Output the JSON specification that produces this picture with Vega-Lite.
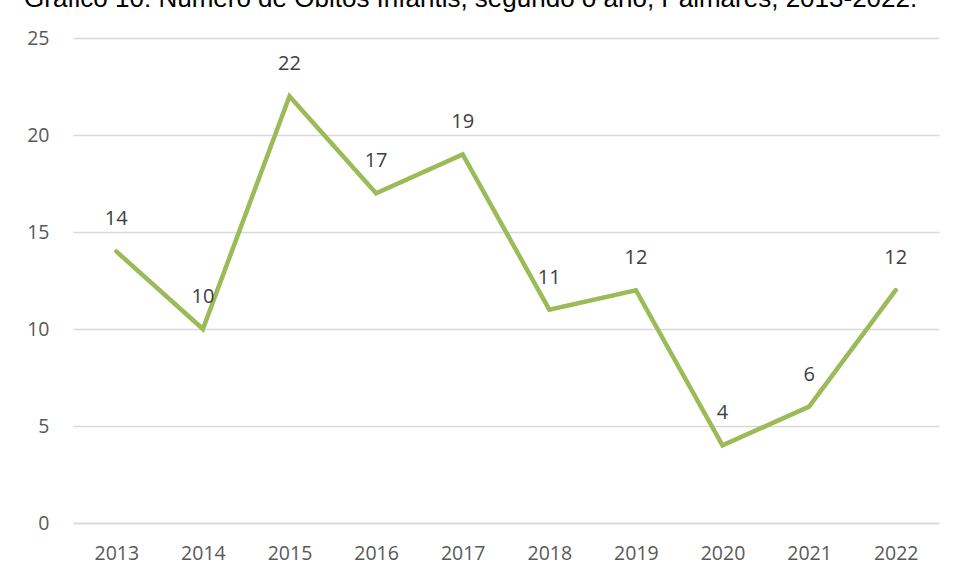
{
  "$schema": "https://vega.github.io/schema/vega-lite/v6.json",
  "width": 866,
  "height": 485,
  "autosize": {"type": "none"},
  "padding": {"left": 73, "top": 38, "right": 16, "bottom": 53},
  "background": "white",
  "title": {
    "text": "Gráfico 10: Número de Óbitos Infantis, segundo o ano, Palmares, 2013-2022.",
    "anchor": "start",
    "frame": "group",
    "dx": -49,
    "offset": 16,
    "font": "Liberation Sans",
    "fontSize": 26,
    "fontWeight": "normal",
    "color": "#000000"
  },
  "data": {
    "values": [
      {"ano": "2013", "obitos": 14},
      {"ano": "2014", "obitos": 10},
      {"ano": "2015", "obitos": 22},
      {"ano": "2016", "obitos": 17},
      {"ano": "2017", "obitos": 19},
      {"ano": "2018", "obitos": 11},
      {"ano": "2019", "obitos": 12},
      {"ano": "2020", "obitos": 4},
      {"ano": "2021", "obitos": 6},
      {"ano": "2022", "obitos": 12}
    ]
  },
  "encoding": {
    "x": {
      "field": "ano",
      "type": "ordinal",
      "scale": {"type": "point", "padding": 0.5},
      "axis": {
        "title": null,
        "labelAngle": 0,
        "labelFont": "Open Sans",
        "labelFontSize": 19.5,
        "labelColor": "#595959",
        "labelPadding": 21,
        "ticks": false,
        "domain": true,
        "domainColor": "#d9d9d9",
        "domainWidth": 1.5,
        "grid": false
      }
    },
    "y": {
      "field": "obitos",
      "type": "quantitative",
      "scale": {"domain": [0, 25]},
      "axis": {
        "title": null,
        "values": [0, 5, 10, 15, 20, 25],
        "labelFont": "Open Sans",
        "labelFontSize": 19.5,
        "labelColor": "#595959",
        "labelPadding": 24,
        "ticks": false,
        "domain": false,
        "grid": true,
        "gridColor": "#d9d9d9",
        "gridWidth": 1.5
      }
    }
  },
  "layer": [
    {
      "mark": {"type": "line", "color": "#9bbb59", "strokeWidth": 4.5, "strokeCap": "round", "strokeJoin": "miter"}
    },
    {
      "mark": {"type": "text", "dy": -32, "font": "Open Sans", "fontSize": 20, "color": "#404040"},
      "encoding": {"text": {"field": "obitos", "type": "quantitative"}}
    }
  ],
  "config": {"view": {"stroke": null}}
}
